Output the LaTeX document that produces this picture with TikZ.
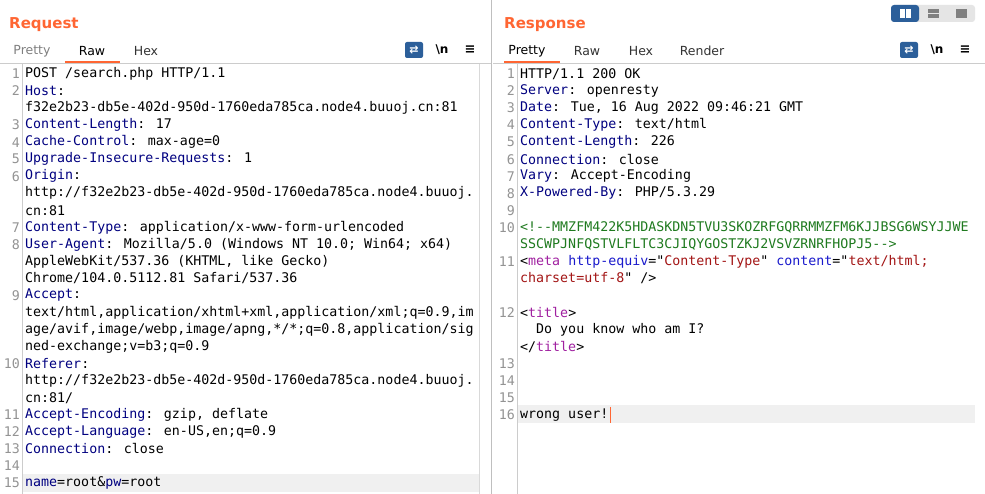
\documentclass[tikz,border=0pt]{standalone}
\usepackage{fontspec}
\setmainfont{DejaVu Sans}
\newfontfamily\mono{DejaVu Sans Mono}
\definecolor{kb}{HTML}{000080}
\definecolor{cg}{HTML}{1F7A1F}
\definecolor{tp}{HTML}{A020A0}
\definecolor{ab}{HTML}{1A1ACC}
\definecolor{vr}{HTML}{A31515}
\definecolor{burp}{HTML}{FF6633}
\definecolor{btn}{HTML}{2C5F9A}
\newcommand\K[1]{\textcolor{kb}{#1}}
\newcommand\TG[1]{\textcolor{tp}{#1}}
\newcommand\AB[1]{\textcolor{ab}{#1}}
\newcommand\VR[1]{\textcolor{vr}{#1}}
\tikzset{txt/.style={anchor=west,inner sep=0pt,font=\mono\fontsize{13.3}{16}\selectfont},
 num/.style={anchor=east,inner sep=0pt,text=gray!85,font=\mono\fontsize{13.3}{16}\selectfont},
 tab/.style={inner sep=0pt,font=\fontsize{12.5}{15}\selectfont},
 head/.style={anchor=west,inner sep=0pt,text=burp,font=\bfseries\fontsize{15}{18}\selectfont}}
\newcommand\LR[3]{\node[txt] (a#1) at (25,{74+17.04*#1}) {#3};\ifx&#2&\else\node[num] (an#1) at (20,{74+17.04*#1}) {#2};\fi}
\newcommand\RR[3]{\node[txt] (b#1) at (520,{74+17.04*#1}) {#3};\ifx&#2&\else\node[num] (bn#1) at (515,{74+17.04*#1}) {#2};\fi}
\begin{document}
\begin{tikzpicture}[x=1pt,y=-1pt]
\useasboundingbox[fill=white] (0,0) rectangle (985,494);
% highlights
\fill[gray!12] (22,474) rectangle (479,492);
\fill[gray!12] (517,405) rectangle (975,423);
% dividers
\draw[gray!40] (0,63) -- (491,63);
\draw[gray!40] (493,63) -- (985,63);
\draw[gray!50] (491,0) -- (491,494);
\draw[gray!40] (22,64) -- (22,494);
\draw[gray!40] (517,64) -- (517,494);
\draw[gray!30] (479,64) -- (479,494);
\draw[burp,line width=2pt] (65,62) -- (120,62);
\draw[burp,line width=2pt] (504,62) -- (560,62);
% headings
\node[head] (hreq) at (9,25) {Request};
\node[head] (hres) at (504,25) {Response};
\node[tab,text=gray] (t1) at (32,51) {Pretty};
\node[tab] (t2) at (92,51) {Raw};
\node[tab,text=black!80] (t3) at (146,51) {Hex};
\node[tab] (t4) at (527,51) {Pretty};
\node[tab,text=black!80] (t5) at (587,51) {Raw};
\node[tab,text=black!80] (t6) at (641,51) {Hex};
\node[tab,text=black!80] (t7) at (702,51) {Render};
% icons
\foreach \x/\n in {414/i1,909/i2}{
 \node[fill=btn,rounded corners=2pt,minimum width=18pt,minimum height=16pt,inner sep=0pt,text=white,font=\bfseries\fontsize{11}{11}\selectfont] (\n) at (\x,50) {⇄};}
\node[tab,font=\bfseries\fontsize{12}{12}\selectfont] (nl1) at (442,50) {\textbackslash n};
\node[tab,font=\bfseries\fontsize{13}{13}\selectfont] (m1) at (470,50) {≡};
\node[tab,font=\bfseries\fontsize{12}{12}\selectfont] (nl2) at (937,50) {\textbackslash n};
\node[tab,font=\bfseries\fontsize{13}{13}\selectfont] (m2) at (965,50) {≡};
% layout buttons
\fill[gray!20,rounded corners=3pt] (891,5) rectangle (975,22);
\fill[btn,rounded corners=3pt] (891,5) rectangle (919,22);
\node[fill=white,minimum width=5pt,minimum height=9pt,inner sep=0pt] (bt1) at (902,13.5) {};
\node[fill=white,minimum width=5pt,minimum height=9pt,inner sep=0pt] (bt2) at (908,13.5) {};
\node[fill=gray,minimum width=11pt,minimum height=3.5pt,inner sep=0pt] (bt3) at (933,11.2) {};
\node[fill=gray,minimum width=11pt,minimum height=3.5pt,inner sep=0pt] (bt4) at (933,16) {};
\node[fill=gray,minimum width=11pt,minimum height=9pt,inner sep=0pt] (bt5) at (961,13.5) {};
% request
\LR{0}{1}{POST /search.php HTTP/1.1}
\LR{1}{2}{\K{Host}: }
\LR{2}{}{f32e2b23-db5e-402d-950d-1760eda785ca.node4.buuoj.cn:81}
\LR{3}{3}{\K{Content-Length}: 17}
\LR{4}{4}{\K{Cache-Control}: max-age=0}
\LR{5}{5}{\K{Upgrade-Insecure-Requests}: 1}
\LR{6}{6}{\K{Origin}: }
\LR{7}{}{http://f32e2b23-db5e-402d-950d-1760eda785ca.node4.buuoj.}
\LR{8}{}{cn:81}
\LR{9}{7}{\K{Content-Type}: application/x-www-form-urlencoded}
\LR{10}{8}{\K{User-Agent}: Mozilla/5.0 (Windows NT 10.0; Win64; x64)}
\LR{11}{}{AppleWebKit/537.36 (KHTML, like Gecko)}
\LR{12}{}{Chrome/104.0.5112.81 Safari/537.36}
\LR{13}{9}{\K{Accept}: }
\LR{14}{}{text/html,application/xhtml+xml,application/xml;q=0.9,im}
\LR{15}{}{age/avif,image/webp,image/apng,*/*;q=0.8,application/sig}
\LR{16}{}{ned-exchange;v=b3;q=0.9}
\LR{17}{10}{\K{Referer}: }
\LR{18}{}{http://f32e2b23-db5e-402d-950d-1760eda785ca.node4.buuoj.}
\LR{19}{}{cn:81/}
\LR{20}{11}{\K{Accept-Encoding}: gzip, deflate}
\LR{21}{12}{\K{Accept-Language}: en-US,en;q=0.9}
\LR{22}{13}{\K{Connection}: close}
\LR{23}{14}{}
\LR{24}{15}{\K{name}=root\&\K{pw}=root}
% response
\RR{0}{1}{HTTP/1.1 200 OK}
\RR{1}{2}{\K{Server}: openresty}
\RR{2}{3}{\K{Date}: Tue, 16 Aug 2022 09:46:21 GMT}
\RR{3}{4}{\K{Content-Type}: text/html}
\RR{4}{5}{\K{Content-Length}: 226}
\RR{5}{6}{\K{Connection}: close}
\RR{6}{7}{\K{Vary}: Accept-Encoding}
\RR{7}{8}{\K{X-Powered-By}: PHP/5.3.29}
\RR{8}{9}{}
\RR{9}{10}{\textcolor{cg}{<!-{}-MMZFM422K5HDASKDN5TVU3SKOZRFGQRRMMZFM6KJJBSG6WSYJJWE}}
\RR{10}{}{\textcolor{cg}{SSCWPJNFQSTVLFLTC3CJIQYGOSTZKJ2VSVZRNRFHOPJ5-{}->}}
\RR{11}{11}{<\TG{meta} \AB{http-equiv}="\VR{Content-Type}" \AB{content}="\VR{text/html;}}
\RR{12}{}{\VR{charset=utf-8}" />}
\RR{14}{12}{<\TG{title}>}
\RR{15}{}{\ \ Do you know who am I?}
\RR{16}{}{</\TG{title}>}
\RR{17}{13}{}
\RR{18}{14}{}
\RR{19}{15}{}
\RR{20}{16}{wrong user!}
\draw[burp,line width=1.5pt] (b20.east) ++(2,-8) -- ++(0,16);
\end{tikzpicture}
\end{document}
